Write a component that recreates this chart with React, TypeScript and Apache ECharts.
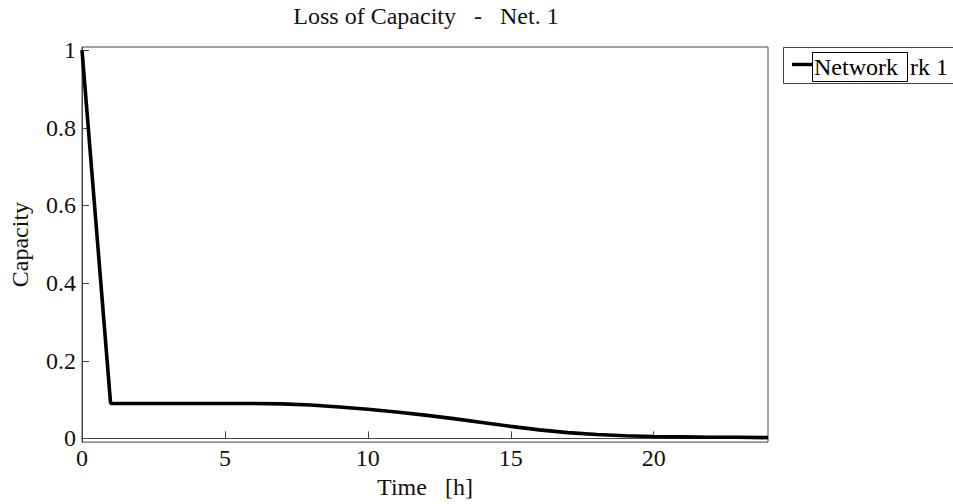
import React, { useEffect, useRef } from "react";
import * as echarts from "echarts";

const titleText = "Loss of Capacity   -   Net. 1";
const xAxisName = "Time   [h]";
const yAxisName = "Capacity";
const seriesName = "Network 1";
const hours = [0, 1, 2, 3, 4, 5, 6, 7, 8, 9, 10, 11, 12, 13, 14, 15, 16, 17, 18, 19, 20, 21, 22, 23, 24];
const capacity = [1, 0.09, 0.09, 0.09, 0.09, 0.09, 0.09, 0.089, 0.086, 0.081, 0.075, 0.068, 0.06, 0.051, 0.041, 0.031, 0.022, 0.015, 0.01, 0.007, 0.005, 0.004, 0.003, 0.003, 0.002];
const xTicks = [0, 5, 10, 15, 20];
const yTicks = [0, 0.2, 0.4, 0.6, 0.8, 1];

const FONT = "Liberation Serif, DejaVu Serif, serif";

export default function App() {
  const ref = useRef<HTMLDivElement>(null);
  useEffect(() => {
    if (!ref.current) return;
    const chart = echarts.init(ref.current, undefined, { renderer: "svg" });
    const axisColor = "#444";
    chart.setOption({
      animation: false,
      backgroundColor: "#fff",
      textStyle: { fontFamily: FONT },
      title: {
        text: titleText,
        left: 421,
        top: -1,
        textAlign: "center",
        textStyle: { fontFamily: FONT, fontSize: 24, fontWeight: "normal", color: "#111" },
      },
      grid: {
        left: 78,
        top: 47,
        right: 185,
        bottom: 61,
        show: true,
        borderColor: axisColor,
        borderWidth: 1,
        backgroundColor: "#fff",
      },
      xAxis: {
        type: "value",
        min: 0,
        max: 24,
        name: xAxisName,
        nameLocation: "middle",
        nameGap: 28,
        nameTextStyle: { fontFamily: FONT, fontSize: 24, color: "#111" },
        axisLine: { show: true, lineStyle: { color: axisColor, width: 1 } },
        axisTick: { show: true, inside: true, length: 7, customValues: xTicks, lineStyle: { color: axisColor } },
        axisLabel: { customValues: xTicks, margin: 4, fontFamily: FONT, fontSize: 24, color: "#111" },
        splitLine: { show: false },
      },
      yAxis: {
        type: "value",
        min: -0.0095,
        max: 1.008,
        name: yAxisName,
        nameLocation: "middle",
        nameGap: 50,
        nameTextStyle: { fontFamily: FONT, fontSize: 24, color: "#111" },
        axisLine: { show: true, lineStyle: { color: axisColor, width: 1 } },
        axisTick: { show: true, inside: true, length: 7, customValues: yTicks, lineStyle: { color: axisColor } },
        axisLabel: { customValues: yTicks, margin: 6, fontFamily: FONT, fontSize: 24, color: "#111" },
        splitLine: { show: false },
      },
      series: [
        {
          name: seriesName,
          type: "line",
          data: hours.map((h, i) => [h, capacity[i]]),
          showSymbol: false,
          symbol: "none",
          lineStyle: { color: "#000", width: 3.6 },
        },
      ],
      graphic: [
        {
          type: "rect",
          shape: { x: 783.5, y: 47.5, width: 180, height: 36 },
          style: { fill: "#fff", stroke: axisColor, lineWidth: 1 },
          z: 100,
        },
        {
          type: "line",
          shape: { x1: 792, y1: 64.5, x2: 813, y2: 64.5 },
          style: { stroke: "#000", lineWidth: 3.4 },
          z: 101,
        },
        {
          type: "rect",
          shape: { x: 812.5, y: 52.5, width: 95, height: 29 },
          style: { fill: "none", stroke: "#000", lineWidth: 1 },
          z: 102,
        },
        {
          type: "text",
          x: 814,
          y: 67,
          style: {
            text: seriesName.slice(0, 7),
            fontFamily: FONT,
            fontSize: 24,
            fill: "#000",
            verticalAlign: "middle",
            align: "left",
          },
          z: 102,
        },
        {
          type: "text",
          x: 910,
          y: 67,
          style: {
            text: seriesName.slice(5),
            fontFamily: FONT,
            fontSize: 24,
            fill: "#000",
            verticalAlign: "middle",
            align: "left",
          },
          z: 102,
        },
      ],
    });
    return () => chart.dispose();
  }, []);
  return <div ref={ref} style={{ width: 953, height: 504, position: "absolute", left: 0, top: 0 }} />;
}
